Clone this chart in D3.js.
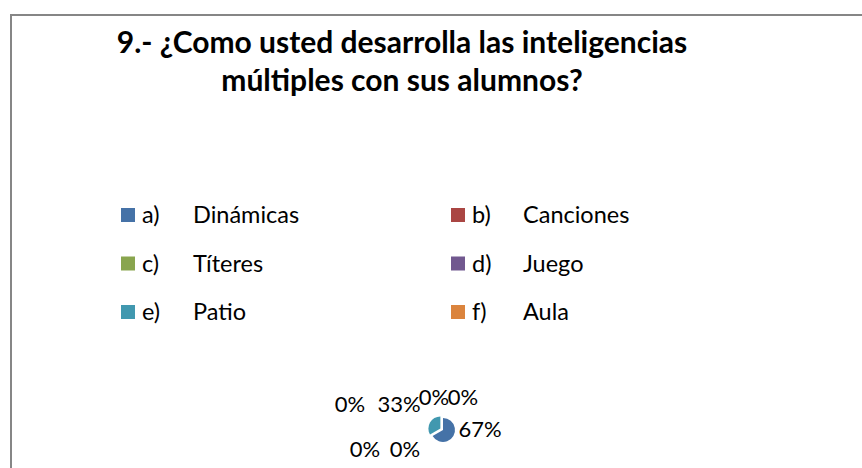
<!DOCTYPE html>
<html>
<head>
<meta charset="utf-8">
<script src="https://cdn.jsdelivr.net/npm/d3@7"></script>
<style>
  body { margin: 0; background: #fff; }
  svg { display: block; }
  text { font-family: Lato, "Open Sans", sans-serif; fill: #000; }
</style>
</head>
<body>
<svg id="chart"></svg>
<script>
const width = 862;
const height = 468;

// datos
const letters = ["a)", "b)", "c)", "d)", "e)", "f)", ""];
const names = ["Dinámicas", "Canciones", "Títeres", "Juego", "Patio", "Aula", ""];
const values = [2, 0, 0, 0, 1, 0, 0];
const colors = ["#4572A7", "#AA4643", "#89A54E", "#71588F", "#4198AF", "#DB843D", "#93A9CF"];
const titleLines = ["9.- ¿Como usted desarrolla las inteligencias", "múltiples con sus alumnos?"];

// diseño
const pieCenter = { x: 443, y: 430 };
const radius = 12;
const explode = [0, 0, 0, 0, 3, 0, 0];
const labelNudge = [[37, 7], [-78, 27], [-38, 27], [-93, -18], [-44, -18], [-9, -25], [20, -25]];

const svg = d3.select("#chart")
  .attr("width", width)
  .attr("height", height);

// marco
svg.append("rect")
  .attr("x", 11)
  .attr("y", 15)
  .attr("width", 1000)
  .attr("height", 600)
  .attr("fill", "#fff")
  .attr("stroke", "#868686")
  .attr("stroke-width", 2);

// título
svg.append("g")
  .selectAll("text")
  .data(titleLines)
  .join("text")
  .attr("x", 402)
  .attr("y", (d, i) => 53 + i * 38)
  .attr("text-anchor", "middle")
  .attr("font-size", "30px")
  .attr("font-weight", "bold")
  .text(d => d);

// leyenda
const legendItems = letters.map((l, i) => ({ letter: l, name: names[i], color: colors[i] }))
  .filter(d => d.letter !== "");

const colX = d3.scaleOrdinal().domain([0, 1]).range([121, 451]);
const rowY = d3.scaleLinear().domain([0, 1]).range([215, 263.5]);

const legend = svg.append("g")
  .selectAll("g")
  .data(legendItems)
  .join("g")
  .attr("transform", (d, i) => `translate(${colX(i % 2)},${rowY(Math.floor(i / 2))})`);

legend.append("rect")
  .attr("x", 0)
  .attr("y", -7)
  .attr("width", 14)
  .attr("height", 14)
  .attr("fill", d => d.color);

legend.append("text")
  .attr("x", 21)
  .attr("y", 8)
  .attr("font-size", "23.5px")
  .text(d => d.letter);

legend.append("text")
  .attr("x", 72)
  .attr("y", 8)
  .attr("font-size", "23.5px")
  .text(d => d.name);

// torta
const total = d3.sum(values);
const pie = d3.pie().sort(null).value(d => d)(values);
const arc = d3.arc().innerRadius(0).outerRadius(radius);

const pieG = svg.append("g")
  .attr("transform", `translate(${pieCenter.x},${pieCenter.y})`);

pieG.selectAll("path")
  .data(pie)
  .join("path")
  .attr("d", arc)
  .attr("fill", (d, i) => colors[i])
  .attr("transform", (d, i) => {
    const mid = (d.startAngle + d.endAngle) / 2;
    const off = explode[i];
    return `translate(${Math.sin(mid) * off},${-Math.cos(mid) * off})`;
  });

pieG.selectAll("text")
  .data(pie)
  .join("text")
  .attr("x", (d, i) => labelNudge[i][0])
  .attr("y", (d, i) => labelNudge[i][1])
  .attr("text-anchor", "middle")
  .attr("font-size", "22px")
  .text(d => Math.round(d.value / total * 100) + "%");
</script>
</body>
</html>
